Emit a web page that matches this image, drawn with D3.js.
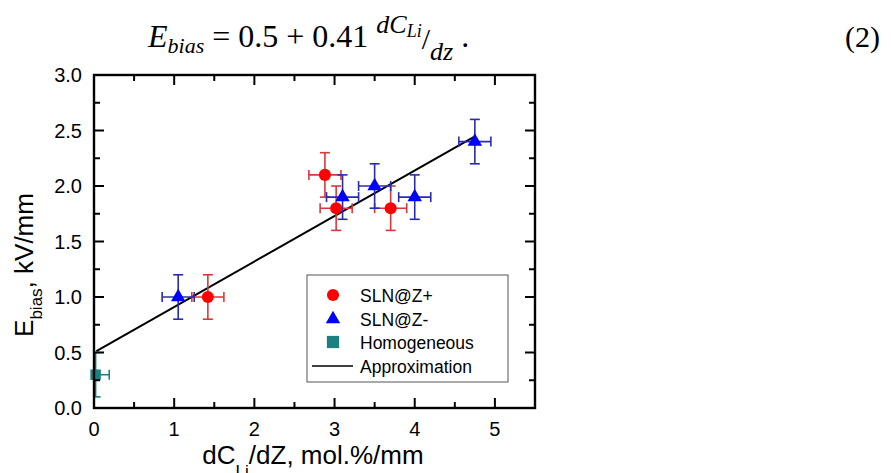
<!DOCTYPE html>
<html>
<head>
<meta charset="utf-8">
<script src="https://cdn.jsdelivr.net/npm/d3@7"></script>
<style>
  html, body { margin: 0; padding: 0; background: #fff; }
  svg { display: block; }
</style>
</head>
<body>
<div id="chart"></div>
<script>
// Data
const slnPlus = [
    { x: 1.42, y: 1.00, ex: 0.20, ey: 0.20 },
    { x: 2.88, y: 2.10, ex: 0.20, ey: 0.20 },
    { x: 3.02, y: 1.80, ex: 0.20, ey: 0.20 },
    { x: 3.70, y: 1.80, ex: 0.20, ey: 0.20 }
];
const slnMinus = [
    { x: 1.05, y: 1.00, ex: 0.20, ey: 0.20 },
    { x: 3.10, y: 1.90, ex: 0.20, ey: 0.20 },
    { x: 3.50, y: 2.00, ex: 0.20, ey: 0.20 },
    { x: 4.00, y: 1.90, ex: 0.20, ey: 0.20 },
    { x: 4.75, y: 2.40, ex: 0.20, ey: 0.20 }
];
const homogeneous = [
    { x: 0.02, y: 0.30, ex: 0.17, ey: 0.20 }
];
const fitRange = [0.03, 4.75];   // approximation line: E = 0.5 + 0.41 x
const fitA = 0.5, fitB = 0.41;
const xTicks = [0, 1, 2, 3, 4, 5];
const yTicks = [0.0, 0.5, 1.0, 1.5, 2.0, 2.5, 3.0];
const legendItems = ['SLN@Z+', 'SLN@Z-', 'Homogeneous', 'Approximation'];

const W = 891, H = 473;
const plot = { left: 94, top: 75, right: 535, bottom: 408 };

const svg = d3.select('#chart').append('svg')
    .attr('width', W).attr('height', H)
    .attr('viewBox', [0, 0, W, H]);

const x = d3.scaleLinear().domain([0, 5.5]).range([plot.left, plot.right]);
const y = d3.scaleLinear().domain([0, 3.0]).range([plot.bottom, plot.top]);

// Equation (2) above the chart
const serif = '"Liberation Serif", "DejaVu Serif", serif';
const eq = svg.append('text')
    .attr('x', 148).attr('y', 47)
    .attr('font-family', serif)
    .attr('font-size', 32)
    .attr('fill', '#000');
eq.append('tspan').attr('font-style', 'italic').text('E');
eq.append('tspan').attr('font-style', 'italic').attr('font-size', 22).attr('dy', 6).text('bias');
eq.append('tspan').attr('dy', -6).text(' = 0.5 + 0.41 ');
eq.append('tspan').attr('font-style', 'italic').attr('font-size', 26).attr('dy', -14).text('dC');
eq.append('tspan').attr('font-style', 'italic').attr('font-size', 18).attr('dy', 4).text('Li');
eq.append('tspan').attr('font-size', 30).attr('dy', 12).text('/');
eq.append('tspan').attr('font-style', 'italic').attr('font-size', 26).attr('dy', 11).text('dz');
eq.append('tspan').attr('dy', -13).text(' .');

svg.append('text')
    .attr('x', 880).attr('y', 47)
    .attr('text-anchor', 'end')
    .attr('font-family', serif)
    .attr('font-size', 30)
    .text('(2)');

// Axes: ticks pointing inward on all four sides
const tickFont = '"Liberation Sans", Arial, sans-serif';
const axisG = svg.append('g').attr('class', 'axes');

function drawTicks(scale, values, len, side) {
    values.forEach(v => {
        const p = scale(v);
        let l;
        if (side === 'bottom') l = [p, plot.bottom, p, plot.bottom - len];
        if (side === 'top') l = [p, plot.top, p, plot.top + len];
        if (side === 'left') l = [plot.left, p, plot.left + len, p];
        if (side === 'right') l = [plot.right, p, plot.right - len, p];
        axisG.append('line')
            .attr('x1', l[0]).attr('y1', l[1]).attr('x2', l[2]).attr('y2', l[3])
            .attr('stroke', '#000').attr('stroke-width', 2);
    });
}
const xMinor = d3.range(0.5, 5.5, 1);
const yMinor = d3.range(0.25, 3.0, 0.5);
['bottom', 'top'].forEach(s => {
    drawTicks(x, xTicks.slice(1), 10, s);
    drawTicks(x, xMinor, 6, s);
});
['left', 'right'].forEach(s => {
    drawTicks(y, yTicks.slice(1, -1), 10, s);
    drawTicks(y, yMinor, 6, s);
});

axisG.append('rect')
    .attr('x', plot.left).attr('y', plot.top)
    .attr('width', plot.right - plot.left).attr('height', plot.bottom - plot.top)
    .attr('fill', 'none').attr('stroke', '#000').attr('stroke-width', 2.4);

axisG.selectAll('.xlab').data(xTicks).join('text')
    .attr('class', 'xlab')
    .attr('x', d => x(d)).attr('y', plot.bottom + 28)
    .attr('text-anchor', 'middle')
    .attr('font-family', tickFont).attr('font-size', 20)
    .text(d => d3.format('d')(d));

axisG.selectAll('.ylab').data(yTicks).join('text')
    .attr('class', 'ylab')
    .attr('x', plot.left - 12).attr('y', d => y(d) + 7)
    .attr('text-anchor', 'end')
    .attr('font-family', tickFont).attr('font-size', 20)
    .text(d => d3.format('.1f')(d));

// Axis titles
const xt = svg.append('text')
    .attr('x', 313).attr('y', 464)
    .attr('text-anchor', 'middle')
    .attr('font-family', tickFont).attr('font-size', 26);
xt.append('tspan').text('dC');
xt.append('tspan').attr('font-size', 17).attr('dy', 13).text('Li');
xt.append('tspan').attr('dy', -13).text('/dZ, mol.%/mm');

const yt = svg.append('text')
    .attr('transform', 'translate(33,265) rotate(-90)')
    .attr('text-anchor', 'middle')
    .attr('font-family', tickFont).attr('font-size', 26);
yt.append('tspan').text('E');
yt.append('tspan').attr('font-size', 17).attr('dy', 9).text('bias');
yt.append('tspan').attr('dy', -9).text(', kV/mm');

// Approximation line
const line = d3.line().x(d => x(d)).y(d => y(fitA + fitB * d));
svg.append('path')
    .attr('d', line(fitRange))
    .attr('fill', 'none').attr('stroke', '#000').attr('stroke-width', 2);

// Error bars
function errorBars(data, color) {
    const g = svg.append('g').attr('stroke', color).attr('stroke-width', 1.6).attr('fill', 'none');
    const cap = 5;
    data.forEach(d => {
        const cx = x(d.x), cy = y(d.y);
        const x0 = x(d.x - d.ex), x1 = x(d.x + d.ex);
        const y0 = y(d.y - d.ey), y1 = y(d.y + d.ey);
        g.append('line').attr('x1', Math.max(x0, plot.left)).attr('x2', x1).attr('y1', cy).attr('y2', cy);
        g.append('line').attr('x1', cx).attr('x2', cx).attr('y1', y0).attr('y2', y1);
        if (x0 >= plot.left) g.append('line').attr('x1', x0).attr('x2', x0).attr('y1', cy - cap).attr('y2', cy + cap);
        g.append('line').attr('x1', x1).attr('x2', x1).attr('y1', cy - cap).attr('y2', cy + cap);
        g.append('line').attr('x1', Math.max(cx - cap, plot.left)).attr('x2', cx + cap).attr('y1', y0).attr('y2', y0);
        g.append('line').attr('x1', Math.max(cx - cap, plot.left)).attr('x2', cx + cap).attr('y1', y1).attr('y2', y1);
    });
}

const circle = d3.symbol().type(d3.symbolCircle).size(115);
const tri = d3.symbol().type(d3.symbolTriangle).size(90);
const sq = d3.symbol().type(d3.symbolSquare).size(110);

svg.append('g').selectAll('path').data(homogeneous).join('path')
    .attr('d', sq).attr('fill', '#1a8080')
    .attr('transform', d => `translate(${x(d.x)},${y(d.y)})`);
errorBars(homogeneous, '#1a8080');
errorBars(slnPlus, '#d9383a');
errorBars(slnMinus, '#2a2ab0');

svg.append('g').selectAll('path').data(slnPlus).join('path')
    .attr('d', circle).attr('fill', '#ff0000')
    .attr('transform', d => `translate(${x(d.x)},${y(d.y)})`);
svg.append('g').selectAll('path').data(slnMinus).join('path')
    .attr('d', tri).attr('fill', '#0000ff')
    .attr('transform', d => `translate(${x(d.x)},${y(d.y)})`);

// redraw left spine over the homogeneous marker, as in the original
axisG.raise();

// Legend
const lg = svg.append('g').attr('transform', 'translate(307,275)');
lg.append('rect').attr('width', 201).attr('height', 107)
    .attr('fill', '#fff').attr('stroke', '#555').attr('stroke-width', 1);
const rowY = [20, 44, 67, 91];
legendItems.forEach((t, i) => {
    lg.append('text')
        .attr('x', 53).attr('y', rowY[i] + 6.5)
        .attr('font-family', tickFont).attr('font-size', 17.5)
        .text(t);
});
const lsq = d3.symbol().type(d3.symbolSquare).size(150);
lg.append('path').attr('d', circle).attr('fill', '#ff0000').attr('transform', `translate(26,${rowY[0]})`);
lg.append('path').attr('d', tri).attr('fill', '#0000ff').attr('transform', `translate(26,${rowY[1]})`);
lg.append('path').attr('d', lsq).attr('fill', '#1a8080').attr('transform', `translate(26,${rowY[2]})`);
lg.append('line').attr('x1', 5).attr('x2', 46).attr('y1', rowY[3]).attr('y2', rowY[3])
    .attr('stroke', '#000').attr('stroke-width', 1.6);
</script>
</body>
</html>
